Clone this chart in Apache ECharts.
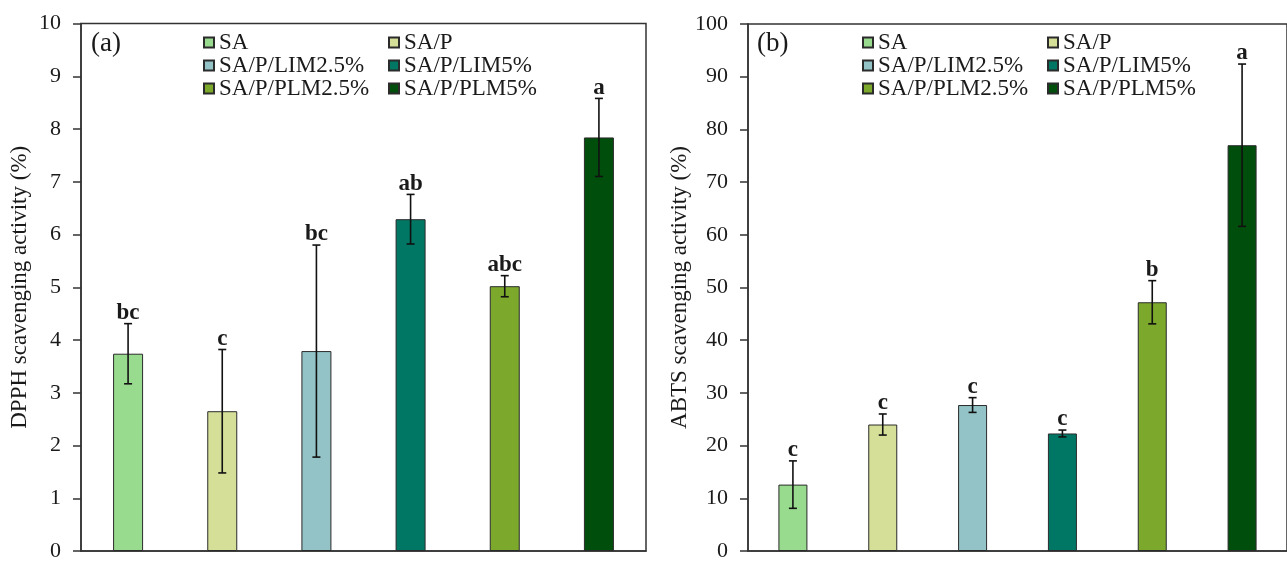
<!DOCTYPE html>
<html>
<head>
<meta charset="utf-8">
<script src="https://cdn.jsdelivr.net/npm/echarts@6/dist/echarts.min.js"></script>
<style>
  html, body { margin: 0; padding: 0; background: #fff; overflow: hidden; }
  #chart { width: 1287px; height: 562px; }
</style>
</head>
<body>
<div id="chart"></div>
<script>
// Film formulations (one bar each)
const categories = ['SA', 'SA/P', 'SA/P/LIM2.5%', 'SA/P/LIM5%', 'SA/P/PLM2.5%', 'SA/P/PLM5%'];
const barColors = ['#98DA8E', '#D6DF98', '#93C3C6', '#007764', '#7CA92C', '#004E0C'];

// DPPH scavenging activity (%) — mean, standard deviation, significance letters
const dpphMean = [3.74, 2.65, 3.79, 6.29, 5.02, 7.84];
const dpphSd = [0.57, 1.17, 2.01, 0.47, 0.20, 0.74];
const dpphLetters = ['bc', 'c', 'bc', 'ab', 'abc', 'a'];

// ABTS scavenging activity (%) — mean, standard deviation, significance letters
const abtsMean = [12.6, 24.0, 27.7, 22.3, 47.2, 77.0];
const abtsSd = [4.5, 2.0, 1.4, 0.65, 4.1, 15.4];
const abtsLetters = ['c', 'c', 'c', 'c', 'b', 'a'];

// Axis ranges
const dpphAxis = { min: 0, max: 10, interval: 1 };
const abtsAxis = { min: 0, max: 100, interval: 10 };

const FONT = '"Liberation Serif", "Times New Roman", serif';
const INK = '#1a1a1a';

const panels = [
  { mean: dpphMean, sd: dpphSd, letters: dpphLetters, axis: dpphAxis,
    name: 'DPPH scavenging activity (%)', barWidth: 30 },
  { mean: abtsMean, sd: abtsSd, letters: abtsLetters, axis: abtsAxis,
    name: 'ABTS scavenging activity (%)', barWidth: 29 }
];

const grids = [
  { left: 81, right: 641, top: 23.5, bottom: 6 },
  { left: 748, right: -9, top: 24, bottom: 6 }
].map(g => Object.assign(g, { show: true, borderColor: '#333', borderWidth: 1.5, containLabel: false }));

const xAxes = panels.map((p, k) => ({
  type: 'category', gridIndex: k, data: categories,
  axisLine: { lineStyle: { color: '#333', width: 1.5 } },
  axisTick: { show: false }, axisLabel: { show: false }
}));

const yAxes = panels.map((p, k) => ({
  type: 'value', gridIndex: k,
  min: p.axis.min, max: p.axis.max, interval: p.axis.interval,
  name: p.name, nameLocation: 'middle', nameGap: k === 0 ? 50 : 48,
  nameTextStyle: { fontFamily: FONT, fontSize: 23, color: INK },
  axisLine: { show: true, lineStyle: { color: '#333', width: 1.5 } },
  axisTick: { show: true, inside: false, length: 8, lineStyle: { color: '#333', width: 1.5 } },
  axisLabel: { fontFamily: FONT, fontSize: 22, color: INK, margin: 20 },
  splitLine: { show: false }
}));

const series = [];
panels.forEach((p, k) => {
  categories.forEach((name, i) => {
    series.push({
      name, type: 'bar', xAxisIndex: k, yAxisIndex: k,
      stack: 'panel' + k, barWidth: p.barWidth,
      itemStyle: { color: barColors[i], borderColor: '#2b2b2b', borderWidth: 1 },
      data: categories.map((c, j) => (j === i ? p.mean[i] : '-')),
      z: 2
    });
  });
  // error bars with significance letters
  series.push({
    type: 'custom', xAxisIndex: k, yAxisIndex: k, z: 5, silent: true,
    data: p.mean.map((m, i) => [i, m - p.sd[i], m + p.sd[i]]),
    renderItem: (params, api) => {
      const x = api.value(0);
      const lo = api.coord([x, api.value(1)]);
      const hi = api.coord([x, api.value(2)]);
      const cap = 4;
      const line = { stroke: '#111', lineWidth: 1.6 };
      return {
        type: 'group',
        children: [
          { type: 'line', shape: { x1: hi[0], y1: hi[1], x2: lo[0], y2: lo[1] }, style: line },
          { type: 'line', shape: { x1: hi[0] - cap, y1: hi[1], x2: hi[0] + cap, y2: hi[1] }, style: line },
          { type: 'line', shape: { x1: lo[0] - cap, y1: lo[1], x2: lo[0] + cap, y2: lo[1] }, style: line },
          { type: 'text', x: hi[0], y: hi[1] + 1,
            style: { text: p.letters[params.dataIndex], font: 'bold 23px ' + FONT,
                     fill: INK, align: 'center', verticalAlign: 'bottom' } }
        ]
      };
    }
  });
});

const legendBase = {
  orient: 'vertical', itemWidth: 10, itemHeight: 10, itemGap: 0, padding: 0,
  icon: 'rect', selectedMode: false,
  textStyle: { fontFamily: FONT, fontSize: 23, color: INK, lineHeight: 22.5 }
};
const legendCol1 = [categories[0], categories[2], categories[4]];
const legendCol2 = [categories[1], categories[3], categories[5]];
const legends = [
  Object.assign({}, legendBase, { left: 203, top: 31, data: legendCol1 }),
  Object.assign({}, legendBase, { left: 388, top: 31, data: legendCol2 }),
  Object.assign({}, legendBase, { left: 862, top: 31, data: legendCol1 }),
  Object.assign({}, legendBase, { left: 1047, top: 31, data: legendCol2 })
];

const chart = echarts.init(document.getElementById('chart'), null, { renderer: 'canvas' });
chart.setOption({
  backgroundColor: '#fff',
  animation: false,
  grid: grids,
  xAxis: xAxes,
  yAxis: yAxes,
  legend: legends,
  graphic: [
    { type: 'text', left: 91, top: 30, style: { text: '(a)', font: '27px ' + FONT, fill: INK } },
    { type: 'text', left: 757, top: 30, style: { text: '(b)', font: '27px ' + FONT, fill: INK } }
  ],
  series
});
</script>
</body>
</html>
